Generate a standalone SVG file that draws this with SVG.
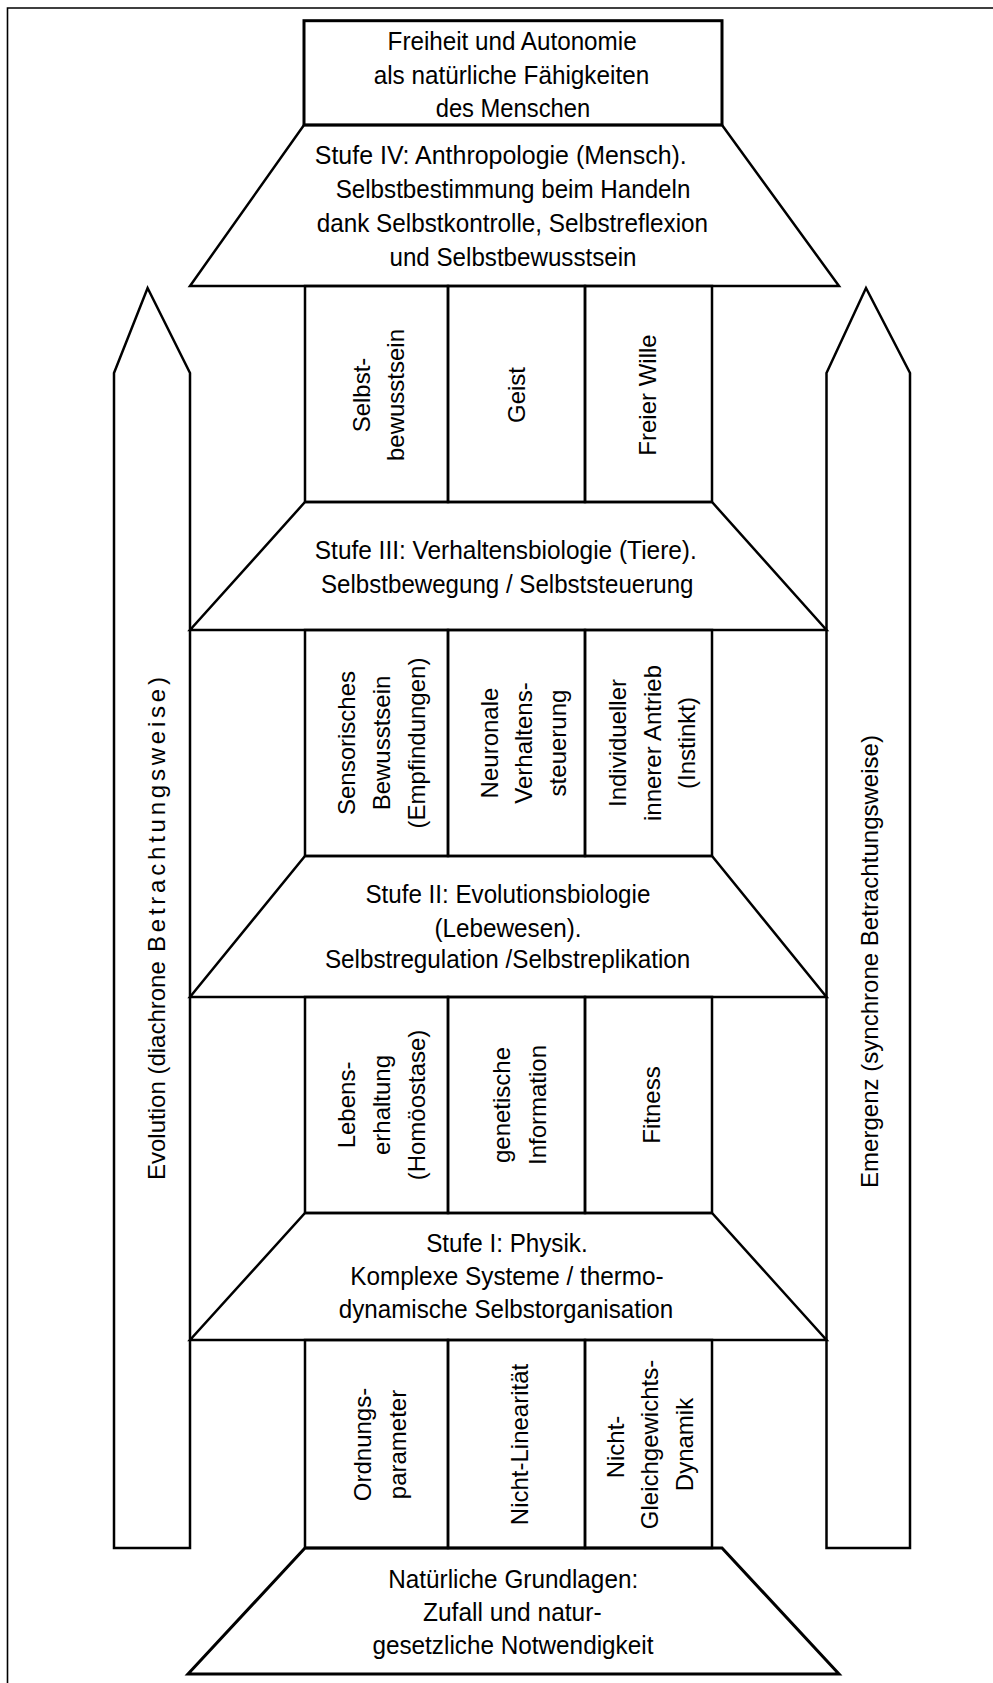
<svg xmlns="http://www.w3.org/2000/svg" width="993" height="1683" viewBox="0 0 993 1683">
<style>
.ln{fill:none;stroke:#000;stroke-width:2.5;stroke-linejoin:miter}
.bd{fill:none;stroke:#000;stroke-width:1.6}
.ht{font-family:"Liberation Sans",Arial,sans-serif;font-size:26px;fill:#000}
.vt{font-family:"Liberation Sans",Arial,sans-serif;font-size:24px;fill:#000;text-anchor:middle}
.vs{font-family:"Liberation Sans",Arial,sans-serif;font-size:24px;fill:#000;text-anchor:start}
</style>
<rect x="0" y="0" width="993" height="1683" fill="#fff"/>
<path class="bd" d="M7.5,1683 V8 H993"/>

<g id="arrow-evolution">
<polygon class="ln" points="114,1548 114,373 147.6,288 190,373 190,1548"/>
<text class="vs" transform="translate(165,1180) rotate(-90)">Evolution (diachrone </text>
<text class="vs" transform="translate(165,952) rotate(-90)" textLength="275" lengthAdjust="spacing">Betrachtungsweise)</text>
</g>
<g id="arrow-emergenz">
<polygon class="ln" points="826.5,1548 826.5,373 866,288 910,373 910,1548"/>
<text class="vs" transform="translate(878,1188) rotate(-90)" textLength="453" lengthAdjust="spacing">Emergenz (synchrone Betrachtungsweise)</text>
</g>

<g id="box-top">
<rect class="ln" x="304" y="20.7" width="418" height="104.3" style="stroke-width:3"/>
<text class="ht" x="387.6" y="50" textLength="249" lengthAdjust="spacingAndGlyphs">Freiheit und Autonomie</text>
<text class="ht" x="373.7" y="84" textLength="275.5" lengthAdjust="spacingAndGlyphs">als natürliche Fähigkeiten</text>
<text class="ht" x="435.7" y="117" textLength="154.5" lengthAdjust="spacingAndGlyphs">des Menschen</text>
</g>

<g id="stufe-4">
<polygon class="ln" points="304,125 722,125 839,286 190,286"/>
<text class="ht" x="314.8" y="164" textLength="372" lengthAdjust="spacingAndGlyphs">Stufe IV: Anthropologie (Mensch).</text>
<text class="ht" x="335.7" y="198" textLength="354.7" lengthAdjust="spacingAndGlyphs">Selbstbestimmung beim Handeln</text>
<text class="ht" x="316.7" y="232" textLength="391.4" lengthAdjust="spacingAndGlyphs">dank Selbstkontrolle, Selbstreflexion</text>
<text class="ht" x="389.5" y="266" textLength="247" lengthAdjust="spacingAndGlyphs">und Selbstbewusstsein</text>
</g>

<g id="cell-selbstbewusstsein">
<rect class="ln" x="305" y="286" width="143" height="216"/>
<text class="vt" transform="translate(370,395) rotate(-90)">Selbst-</text>
<text class="vt" transform="translate(404,395) rotate(-90)">bewusstsein</text>
</g>
<g id="cell-geist">
<rect class="ln" x="448" y="286" width="137" height="216"/>
<text class="vt" transform="translate(525,395) rotate(-90)">Geist</text>
</g>
<g id="cell-freier-wille">
<rect class="ln" x="585" y="286" width="127" height="216"/>
<text class="vt" transform="translate(656,395) rotate(-90)">Freier Wille</text>
</g>

<g id="stufe-3">
<polygon class="ln" points="305,502 712,502 826.5,630 190,630"/>
<text class="ht" x="314.8" y="559" textLength="382" lengthAdjust="spacingAndGlyphs">Stufe III: Verhaltensbiologie (Tiere).</text>
<text class="ht" x="321" y="593" textLength="372.5" lengthAdjust="spacingAndGlyphs">Selbstbewegung / Selbststeuerung</text>
</g>

<g id="cell-sensorisches-bewusstsein">
<rect class="ln" x="305" y="630" width="143" height="226"/>
<text class="vt" transform="translate(355,743) rotate(-90)">Sensorisches</text>
<text class="vt" transform="translate(390,743) rotate(-90)">Bewusstsein</text>
<text class="vt" transform="translate(425,743) rotate(-90)">(Empfindungen)</text>
</g>
<g id="cell-neuronale-verhaltenssteuerung">
<rect class="ln" x="448" y="630" width="137" height="226"/>
<text class="vt" transform="translate(498,743) rotate(-90)">Neuronale</text>
<text class="vt" transform="translate(532,743) rotate(-90)">Verhaltens-</text>
<text class="vt" transform="translate(566,743) rotate(-90)">steuerung</text>
</g>
<g id="cell-innerer-antrieb">
<rect class="ln" x="585" y="630" width="127" height="226"/>
<text class="vt" transform="translate(626,743) rotate(-90)">Individueller</text>
<text class="vt" transform="translate(661,743) rotate(-90)">innerer Antrieb</text>
<text class="vt" transform="translate(695,743) rotate(-90)">(Instinkt)</text>
</g>

<g id="stufe-2">
<polygon class="ln" points="305,856 712,856 826.5,997 190,997"/>
<text class="ht" x="365.4" y="902.5" textLength="285" lengthAdjust="spacingAndGlyphs">Stufe II: Evolutionsbiologie</text>
<text class="ht" x="434.5" y="937" textLength="147" lengthAdjust="spacingAndGlyphs">(Lebewesen).</text>
<text class="ht" x="324.9" y="968" textLength="365.4" lengthAdjust="spacingAndGlyphs">Selbstregulation /Selbstreplikation</text>
</g>

<g id="cell-lebenserhaltung">
<rect class="ln" x="305" y="997" width="143" height="216"/>
<text class="vt" transform="translate(355,1105) rotate(-90)">Lebens-</text>
<text class="vt" transform="translate(390,1105) rotate(-90)">erhaltung</text>
<text class="vt" transform="translate(425,1105) rotate(-90)">(Homöostase)</text>
</g>
<g id="cell-genetische-information">
<rect class="ln" x="448" y="997" width="137" height="216"/>
<text class="vt" transform="translate(510,1105) rotate(-90)">genetische</text>
<text class="vt" transform="translate(546,1105) rotate(-90)">Information</text>
</g>
<g id="cell-fitness">
<rect class="ln" x="585" y="997" width="127" height="216"/>
<text class="vt" transform="translate(660,1105) rotate(-90)">Fitness</text>
</g>

<g id="stufe-1">
<polygon class="ln" points="305,1213 712,1213 826.5,1340 190,1340"/>
<text class="ht" x="426.2" y="1251.5" textLength="161.5" lengthAdjust="spacingAndGlyphs">Stufe I: Physik.</text>
<text class="ht" x="350.2" y="1285" textLength="313.5" lengthAdjust="spacingAndGlyphs">Komplexe Systeme / thermo-</text>
<text class="ht" x="338.8" y="1318" textLength="334.4" lengthAdjust="spacingAndGlyphs">dynamische Selbstorganisation</text>
</g>

<g id="cell-ordnungsparameter">
<rect class="ln" x="305" y="1340" width="143" height="208"/>
<text class="vt" transform="translate(371,1444.5) rotate(-90)">Ordnungs-</text>
<text class="vt" transform="translate(406,1444.5) rotate(-90)">parameter</text>
</g>
<g id="cell-nicht-linearitaet">
<rect class="ln" x="448" y="1340" width="137" height="208"/>
<text class="vt" transform="translate(528,1444.5) rotate(-90)">Nicht-Linearität</text>
</g>
<g id="cell-nichtgleichgewichtsdynamik">
<rect class="ln" x="585" y="1340" width="127" height="208"/>
<text class="vt" transform="translate(624,1447) rotate(-90)">Nicht-</text>
<text class="vt" transform="translate(658,1444.5) rotate(-90)">Gleichgewichts-</text>
<text class="vt" transform="translate(693,1444.5) rotate(-90)">Dynamik</text>
</g>

<g id="grundlagen">
<polygon class="ln" points="305,1548 722,1548 839,1674 188,1674" style="stroke-width:3"/>
<text class="ht" x="388.2" y="1588" textLength="250" lengthAdjust="spacingAndGlyphs">Natürliche Grundlagen:</text>
<text class="ht" x="423" y="1621" textLength="178.6" lengthAdjust="spacingAndGlyphs">Zufall und natur-</text>
<text class="ht" x="372.4" y="1654" textLength="281" lengthAdjust="spacingAndGlyphs">gesetzliche Notwendigkeit</text>
</g>

<g id="connectors"></g>
</svg>
